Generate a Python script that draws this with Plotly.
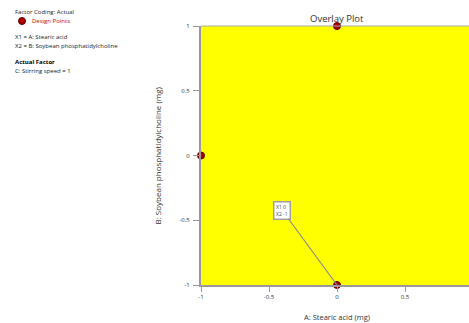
import plotly.graph_objects as go

# Data
design_x = [0, -1, 0]
design_y = [1, 0, -1]
x_ticks = [-1, -0.5, 0, 0.5]
y_ticks = [-1, -0.5, 0, 0.5, 1]
x_tick_labels = ["-1", "-0.5", "0", "0.5"]
y_tick_labels = ["-1", "-0.5", "0", "0.5", "1"]
flag_x, flag_y = 0, -1
flag_text = "X1 0<br>X2 -1"
x_title = "A: Stearic acid (mg)"
y_title = "B: Soybean phosphatidylcholine (mg)"
chart_title = "Overlay Plot"
info_lines = [
    ("Factor Coding: Actual", "#222", False, 12),
    ("X1 = A: Stearic acid", "#222", False, 37),
    ("X2 = B: Soybean phosphatidylcholine", "#222", False, 46),
    ("Actual Factor", "#000", True, 62),
    ("C: Stirring speed = 1", "#222", False, 71),
]

W, H = 469, 323
L, R, T, B = 201, 0, 26, 38
PW = W - L - R
PH = H - T - B

def pxx(px):
    return (px - L) / PW

def pxy(py):
    return (H - B - py) / PH

FONT = "Open Sans"

fig = go.Figure()
fig.add_trace(go.Scatter(
    x=design_x, y=design_y, mode="markers",
    marker=dict(size=7, color="#b00000", line=dict(color="#5a0000", width=1)),
    hoverinfo="skip", showlegend=False, cliponaxis=False,
))

annotations = []
for txt, col, bold, py in info_lines:
    annotations.append(dict(
        xref="paper", yref="paper", x=pxx(13), y=pxy(py),
        xanchor="left", yanchor="middle", showarrow=False,
        text=("<b>%s</b>" % txt) if bold else txt,
        font=dict(size=6, color=col, family=FONT),
    ))
annotations.append(dict(
    xref="paper", yref="paper", x=pxx(30), y=pxy(21),
    xanchor="left", yanchor="middle", showarrow=False,
    text="Design Points", font=dict(size=6, color="#cc0000", family=FONT),
))
annotations.append(dict(
    xref="x", yref="paper", x=0, y=pxy(18), xanchor="center", yanchor="middle",
    showarrow=False, text=chart_title, font=dict(size=9.5, color="#333", family=FONT),
))
annotations.append(dict(
    xref="x", yref="paper", x=0, y=pxy(317), xanchor="center", yanchor="middle",
    showarrow=False, text=x_title, font=dict(size=7.5, color="#333", family=FONT),
))
annotations.append(dict(
    xref="paper", yref="y", x=pxx(157), y=0, xanchor="center", yanchor="middle",
    showarrow=False, text=y_title, textangle=-90,
    font=dict(size=8, color="#333", family=FONT),
))
annotations.append(dict(
    xref="x", yref="y", x=flag_x, y=flag_y, text=flag_text,
    showarrow=True, arrowhead=0, arrowwidth=1.2, arrowcolor="#8a8a8a",
    ax=-55, ay=-75, bgcolor="white", bordercolor="#a0a0a0", borderwidth=1.5,
    borderpad=1.5, align="left", font=dict(size=5, color="#444", family=FONT),
))

shapes = [
    dict(type="circle", xref="paper", yref="paper",
         x0=pxx(18.5), x1=pxx(25.5), y0=pxy(24.5), y1=pxy(17.5),
         fillcolor="#b00000", line=dict(color="#5a0000", width=1)),
    dict(type="line", xref="paper", yref="paper", x0=0, x1=1, y0=1, y1=1,
         line=dict(color="#a8a8a8", width=1)),
]

fig.update_layout(
    width=W, height=H,
    margin=dict(l=L, r=R, t=T, b=B),
    paper_bgcolor="white", plot_bgcolor="#ffff00",
    font=dict(family=FONT),
    annotations=annotations, shapes=shapes,
    xaxis=dict(
        range=[-1, (W - L) / 136 - 1], tickvals=x_ticks, ticktext=x_tick_labels,
        ticks="outside", ticklen=5, tickcolor="#999", tickwidth=1,
        showgrid=False, zeroline=False, showline=True, linecolor="#999", linewidth=2,
        tickfont=dict(size=6, color="#333", family=FONT),
    ),
    yaxis=dict(
        range=[-1, 1], tickvals=y_ticks, ticktext=y_tick_labels,
        ticks="outside", ticklen=6, tickcolor="#999", tickwidth=1,
        showgrid=False, zeroline=False, showline=True, linecolor="#999", linewidth=2,
        tickfont=dict(size=6, color="#333", family=FONT), ticklabelstandoff=2,
    ),
)

fig.write_html("out.html", config={"displayModeBar": False})
